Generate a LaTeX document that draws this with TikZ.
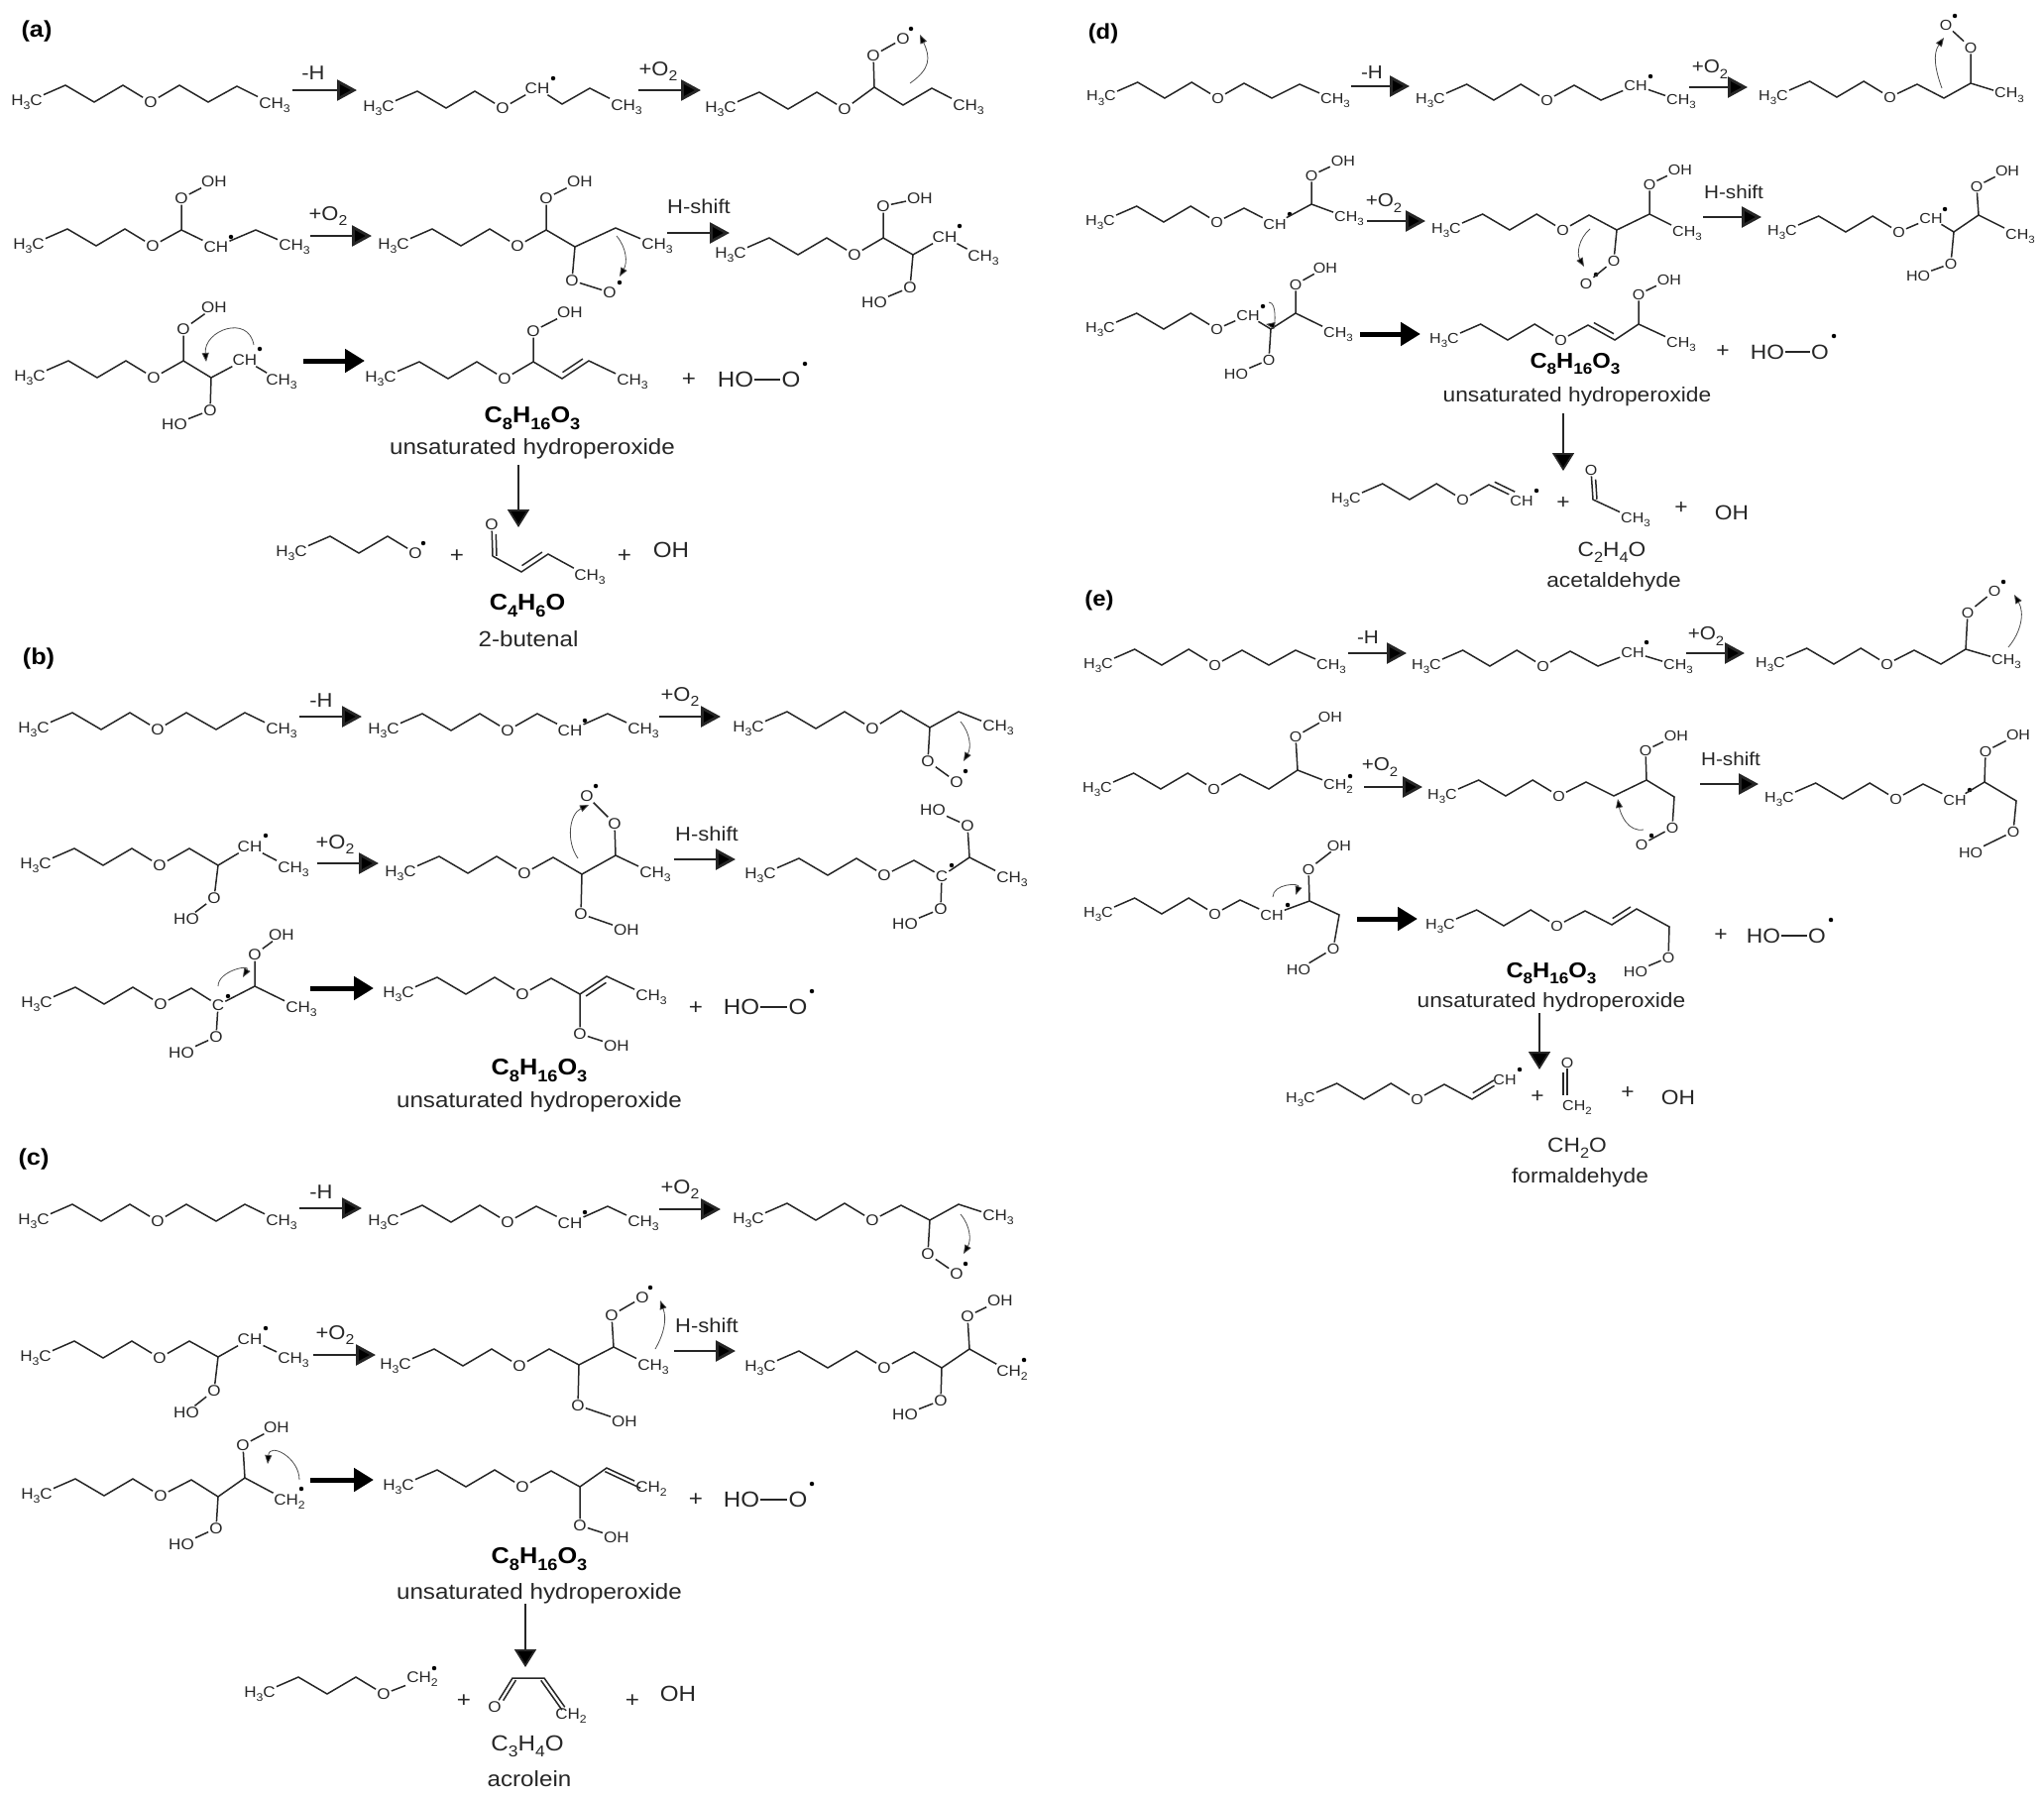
\documentclass[tikz,border=0pt]{standalone}
\usepackage{fontspec}
\setmainfont[FakeStretch=1.1]{Liberation Sans}
\usetikzlibrary{arrows.meta,calc}
\newcommand{\pansc}{1}
\newcommand{\fs}[1]{\fontsize{\fpeval{#1*\pansc}}{\fpeval{#1*\pansc*1.2}}\selectfont}
\makeatletter
\newcommand{\low}[1]{\raisebox{-.28em}{\fontsize{\fpeval{.72*\f@size}}{1}\selectfont #1}}
\makeatother
\newcommand{\chiii}{CH\low{3}}
\newcommand{\chii}{CH\low{2}}
\newcommand{\formula}{C\low{8}H\low{16}O\low{3}}
\tikzset{
  bond/.style={line width=1.5pt,black!85},
  atom/.style={font=\fs{15.5},inner sep=1pt,text=black!85},
  big/.style={font=\fs{22},inner sep=1pt,text=black!85},
  txt/.style={font=\fs{20},inner sep=0pt,text=black!85},
  note/.style={font=\fs{22},inner sep=0pt,text=black!85},
  brut/.style={font=\bfseries\fs{23},inner sep=0pt},
  panel/.style={font=\bfseries\fs{23},inner sep=0pt},
  rad/.style={circle,fill=black,inner sep=0pt,minimum size=4.5pt},
  rarrow/.style={line width=2.8pt,black!85,-{Triangle[length=20pt,width=21pt,fill=black]}},
  fat/.style={line width=5pt,black,-{Triangle[length=20pt,width=23pt,fill=black]}},
  fall/.style={line width=1.8pt,black!85,-{Triangle[length=18pt,width=22pt,fill=black]}},
  curl/.style={line width=.8pt,black!70,-{Triangle[length=9pt,width=7pt,fill=black]}}
}
\newcommand{\mol}[2]{\begin{scope}[name prefix=#1-]#2\end{scope}}
\newcommand{\vtx}[1]{\foreach \n/\x/\y in {#1} \coordinate (\n) at (\x,\y);}
\newcommand{\atm}[1]{\foreach \n/\x/\y/\lab in {#1} \node[atom] (\n) at (\x,\y) {\lab};}
\newcommand{\rd}[2]{\node[rad] (r) at (#1,#2) {};}
% butoxy end shared by nearly all the species
\newcommand{\tail}[2]{\begin{scope}[shift={(#1,#2)},scale=\pansc]
  \node[atom] (h) at (0,0) {H\low{3}C};
  \coordinate (c1) at (39,-17);
  \coordinate (c2) at (68,0);
  \coordinate (c3) at (97,-17);
  \node[atom] (o) at (125,0) {O};
  \draw[bond] (h)--(c1)--(c2)--(c3)--(o);
\end{scope}}
\newcommand{\dbl}[5]{\draw[bond,shorten <=#3pt,shorten >=#4pt] ($(#1)!#5pt!90:(#2)$) -- ($(#2)!#5pt!-90:(#1)$);}
\newcommand{\rxn}[5][rarrow]{\coordinate (#2a) at (#3,#5); \coordinate (#2b) at (#4,#5); \draw[#1] (#2a)--(#2b);}
\newcommand{\drop}[4]{\coordinate (#1a) at (#2,#3); \coordinate (#1b) at (#2,#4); \draw[fall] (#1a)--(#1b);}
\newcommand{\hoo}[3]{\node[big] (ho) at (#1,#3) {HO}; \node[big] (oo) at (#2,#3) {O}; \draw[bond] (ho)--(oo); \node[rad] (r) at ($(oo)+(14,-16)$) {};}
\begin{document}
\begin{tikzpicture}[x=1pt,y=-1pt]
\useasboundingbox (0,0) rectangle (2062,1813);

% panel a
\node[panel] (pa) at (37,32) {(a)};
\mol{a1}{\tail{27}{103}\vtx{c4/181/86,c5/210/103,c6/239/87}\atm{m/277/106/\chiii}
  \draw[bond] (o)--(c4)--(c5)--(c6)--(m);}
\rxn{ra1}{295}{360}{91}
\node[txt] (ta1) at (316,74) {-H};
\mol{a2}{\tail{382}{109}\vtx{c5/567/105,c6/595/89}\atm{ch/542/89/CH,m/632/108/\chiii}\rd{558}{79}
  \draw[bond] (o)--(ch)--(c5)--(c6)--(m);}
\rxn{ra2}{644}{707}{91}
\node[txt] (ta2) at (664,72) {+O\low{2}};
\mol{a3}{\tail{727}{110}\vtx{c4/882/88,c5/911/106,c6/940/89,k1/918/84,k2/928/35}\atm{m/977/108/\chiii,p/881/56/O,q/911/39/O}\rd{919}{29}
  \draw[bond] (o)--(c4)--(c5)--(c6)--(m);
  \draw[bond] (c4)--(p)--(q);
  \draw[curl] (k1) to[out=35,in=-65,looseness=1.3] (k2);}
\mol{a4}{\tail{29}{248}\vtx{c4/183/232,c6/258/232}\atm{ch/218/249/CH,m/297/249/\chiii,p/183/200/O,q/216/183/OH}\rd{233}{239}
  \draw[bond] (o)--(c4)--(ch)--(c6)--(m);
  \draw[bond] (c4)--(p)--(q);}
\rxn{ra3}{313}{375}{238}
\node[txt] (ta3) at (331,218) {+O\low{2}};
\mol{a5}{\tail{397}{248}\vtx{c4/551/232,c5/580/249,c6/621/230,k1/622/238,k2/625/279}\atm{m/663/248/\chiii,p/551/200/O,q/585/183/OH,u/577/283/O,w/615/295/O}\rd{625}{285}
  \draw[bond] (o)--(c4)--(c5)--(c6)--(m);
  \draw[bond] (c4)--(p)--(q);
  \draw[bond] (c5)--(u)--(w);
  \draw[curl] (k1) to[out=-50,in=60] (k2);}
\rxn{ra4}{673}{736}{235}
\node[txt] (ta4) at (705,208) {H-shift};
\mol{a6}{\tail{737}{257}\vtx{c4/891/240,c5/921/257}\atm{ch/953/239/CH,m/992/260/\chiii,p/891/208/O,q/928/200/OH,u/918/290/O,w/882/305/HO}\rd{968}{228}
  \draw[bond] (o)--(c4)--(c5)--(ch)--(m);
  \draw[bond] (c4)--(p)--(q);
  \draw[bond] (c5)--(u)--(w);}
\mol{a7}{\tail{30}{381}\vtx{c4/185/364,c5/213/381,k1/256/348,k2/208/365}\atm{ch/247/363/CH,m/284/385/\chiii,p/185/332/O,q/216/310/OH,u/212/414/O,w/176/428/HO}\rd{262}{352}
  \draw[bond] (o)--(c4)--(c5)--(ch)--(m);
  \draw[bond] (c4)--(p)--(q);
  \draw[bond] (c5)--(u)--(w);
  \draw[curl] (k1) to[out=100,in=95,looseness=1.6] (k2);}
\rxn[fat]{ra5}{306}{368}{364}
\mol{a8}{\tail{384}{382}\vtx{c4/538/365,c5/567/382,c6/594/364}\atm{m/638/385/\chiii,p/538/334/O,q/575/315/OH}
  \draw[bond] (o)--(c4)--(c5)--(c6)--(m);
  \dbl{c5}{c6}{4}{4}{5}
  \draw[bond] (c4)--(p)--(q);
  \node[big] (plus) at (695,383) {+};
  \hoo{742}{798}{383}}
\node[brut] (fa) at (537,422) {\formula};
\node[note] (na) at (537,453) {unsaturated hydroperoxide};
\drop{da}{523}{469}{532}
\mol{a9}{\tail{294}{558}\rd{427}{548}
  \node[big] (p1) at (461,561) {+};
  \vtx{c1a/497/561,c2a/526/577,c3a/553/559}\atm{x/496/529/O,m/595/582/\chiii}
  \draw[bond] (x)--(c1a)--(c2a)--(c3a)--(m);
  \dbl{c1a}{x}{0}{10}{-4}
  \dbl{c2a}{c3a}{4}{4}{5}
  \node[big] (p2) at (630,561) {+};
  \node[big] (oh) at (677,555) {OH};}
\node[brut] (fb) at (532,611) {C\low{4}H\low{6}O};
\node[note] (nb) at (533,645) {2-butenal};

% panel b
\node[panel] (pb) at (39,665) {(b)};
\mol{b1}{\tail{34}{736}\vtx{c4/188/719,c5/218/736,c6/247/719}\atm{m/284/737/\chiii}
  \draw[bond] (o)--(c4)--(c5)--(c6)--(m);}
\rxn{rb1}{302}{365}{723}
\node[txt] (tb1) at (324,707) {-H};
\mol{b2}{\tail{387}{737}\vtx{c4/542/720,c6/613/720}\atm{ch/575/737/CH,m/649/737/\chiii}\rd{590}{727}
  \draw[bond] (o)--(c4)--(ch)--(c6)--(m);}
\rxn{rb2}{665}{727}{723}
\node[txt] (tb2) at (686,703) {+O\low{2}};
\mol{b3}{\tail{755}{735}\vtx{c4/909/717,c5/938/734,c6/967/718,k1/969/728,k2/972/768}\atm{m/1007/734/\chiii,u/936/768/O,w/965/789/O}\rd{974}{778}
  \draw[bond] (o)--(c4)--(c5)--(c6)--(m);
  \draw[bond] (c5)--(u)--(w);
  \draw[curl] (k1) to[out=-50,in=60] (k2);}
\mol{b4}{\tail{36}{873}\vtx{c4/191/856,c5/220/873}\atm{ch/252/854/CH,m/296/877/\chiii,u/216/906/O,w/188/927/HO}\rd{268}{843}
  \draw[bond] (o)--(c4)--(c5)--(ch)--(m);
  \draw[bond] (c5)--(u)--(w);}
\rxn{rb3}{320}{382}{871}
\node[txt] (tb3) at (338,852) {+O\low{2}};
\mol{b5}{\tail{404}{881}\vtx{c4/558/865,c5/587/882,c6/621/863,k1/583/866,k2/594/812}\atm{m/661/882/\chiii,p/620/831/O,q/592/803/O,u/586/922/O,w/632/938/OH}\rd{601}{793}
  \draw[bond] (o)--(c4)--(c5)--(c6)--(m);
  \draw[bond] (c6)--(p)--(q);
  \draw[bond] (c5)--(u)--(w);
  \draw[curl] (k1) to[out=125,in=205] (k2);}
\node[txt] (tb4) at (713,841) {H-shift};
\rxn{rb4}{680}{742}{867}
\mol{b6}{\tail{767}{883}\vtx{c4/922/868,c6/978/865}\atm{ch/950/884/C,m/1021/887/\chiii,p/976/833/O,q/941/817/HO,u/949/917/O,w/913/932/HO}\rd{960}{873}
  \draw[bond] (o)--(c4)--(ch)--(c6)--(m);
  \draw[bond] (c6)--(p)--(q);
  \draw[bond] (ch)--(u)--(w);}
\mol{b7}{\tail{37}{1013}\vtx{c4/193/997,c6/257/995,k1/220/995,k2/245/986}\atm{ch/220/1014/C,m/304/1018/\chiii,p/257/963/O,q/284/943/OH,u/218/1046/O,w/183/1062/HO}\rd{230}{1005}
  \draw[bond] (o)--(c4)--(ch)--(c6)--(m);
  \draw[bond] (c6)--(p)--(q);
  \draw[bond] (ch)--(u)--(w);
  \draw[curl] (k1) to[out=90,in=60,looseness=1.5] (k2);}
\rxn[fat]{rb5}{313}{377}{997}
\mol{b8}{\tail{402}{1003}\vtx{c4/556/987,c5/585/1003,c6/612/985}\atm{m/657/1006/\chiii,u/585/1043/O,w/622/1055/OH}
  \draw[bond] (o)--(c4)--(c5)--(c6)--(m);
  \dbl{c5}{c6}{4}{4}{-5}
  \draw[bond] (c5)--(u)--(w);
  \node[big] (plus) at (702,1017) {+};
  \hoo{748}{805}{1016}}
\node[brut] (fc) at (544,1080) {\formula};
\node[note] (nc) at (544,1112) {unsaturated hydroperoxide};

% panel c
\node[panel] (pc) at (34,1170) {(c)};
\mol{c1}{\tail{34}{1232}\vtx{c4/188/1215,c5/218/1232,c6/247/1215}\atm{m/284/1233/\chiii}
  \draw[bond] (o)--(c4)--(c5)--(c6)--(m);}
\rxn{rc1}{302}{365}{1219}
\node[txt] (tc1) at (324,1203) {-H};
\mol{c2}{\tail{387}{1233}\vtx{c4/541/1217,c6/613/1217}\atm{ch/575/1234/CH,m/649/1234/\chiii}\rd{590}{1223}
  \draw[bond] (o)--(c4)--(ch)--(c6)--(m);}
\rxn{rc2}{665}{727}{1220}
\node[txt] (tc2) at (686,1200) {+O\low{2}};
\mol{c3}{\tail{755}{1231}\vtx{c4/909/1216,c5/938/1231,c6/967/1215,k1/969/1225,k2/972/1265}\atm{m/1007/1228/\chiii,u/936/1265/O,w/965/1285/O}\rd{974}{1275}
  \draw[bond] (o)--(c4)--(c5)--(c6)--(m);
  \draw[bond] (c5)--(u)--(w);
  \draw[curl] (k1) to[out=-50,in=60] (k2);}
\mol{c4}{\tail{36}{1370}\vtx{c4/191/1353,c5/220/1369}\atm{ch/252/1351/CH,m/296/1372/\chiii,u/216/1403/O,w/188/1425/HO}\rd{268}{1340}
  \draw[bond] (o)--(c4)--(c5)--(ch)--(m);
  \draw[bond] (c5)--(u)--(w);}
\rxn{rc3}{316}{379}{1367}
\node[txt] (tc3) at (338,1347) {+O\low{2}};
\mol{c5}{\tail{399}{1378}\vtx{c4/554/1361,c5/584/1377,c6/619/1359,k1/661/1361,k2/666/1312}\atm{m/659/1379/\chiii,p/617/1327/O,q/648/1309/O,u/583/1418/O,w/630/1434/OH}\rd{656}{1299}
  \draw[bond] (o)--(c4)--(c5)--(c6)--(m);
  \draw[bond] (c6)--(p)--(q);
  \draw[bond] (c5)--(u)--(w);
  \draw[curl] (k1) to[out=60,in=-70] (k2);}
\node[txt] (tc4) at (713,1337) {H-shift};
\rxn{rc4}{680}{742}{1363}
\mol{c6}{\tail{767}{1380}\vtx{c4/922/1364,c5/950/1380,c6/978/1361}\atm{m/1021/1385/\chii,p/976/1328/O,q/1009/1312/OH,u/949/1413/O,w/913/1427/HO}\rd{1033}{1372}
  \draw[bond] (o)--(c4)--(c5)--(c6)--(m);
  \draw[bond] (c6)--(p)--(q);
  \draw[bond] (c5)--(u)--(w);}
\mol{c7}{\tail{37}{1509}\vtx{c4/193/1493,c5/220/1510,c6/247/1491,k1/302/1493,k2/270/1477}\atm{m/292/1515/\chii,p/245/1458/O,q/279/1440/OH,u/218/1542/O,w/183/1558/HO}\rd{304}{1502}
  \draw[bond] (o)--(c4)--(c5)--(c6)--(m);
  \draw[bond] (c6)--(p)--(q);
  \draw[bond] (c5)--(u)--(w);
  \draw[curl] (k1) to[out=90,in=85,looseness=1.6] (k2);}
\rxn[fat]{rc5}{313}{377}{1493}
\mol{c8}{\tail{402}{1500}\vtx{c4/556/1484,c5/585/1500,c6/612/1481}\atm{m/657/1502/\chii,u/585/1539/O,w/622/1551/OH}
  \draw[bond] (o)--(c4)--(c5)--(c6)--(m);
  \dbl{c6}{m}{0}{10}{-4}
  \draw[bond] (c5)--(u)--(w);
  \node[big] (plus) at (702,1513) {+};
  \hoo{748}{805}{1513}}
\node[brut] (fd) at (544,1573) {\formula};
\node[note] (nd) at (544,1608) {unsaturated hydroperoxide};
\drop{dc}{530}{1618}{1682}
\mol{c9}{\tail{262}{1709}\atm{z/426/1694/\chii}\rd{438}{1683}
  \draw[bond] (o)--(z);
  \node[big] (p1) at (468,1716) {+};
  \vtx{c1a/517/1693,c2a/549/1693}\atm{x/499/1722/O,m/576/1731/\chii}
  \draw[bond] (x)--(c1a)--(c2a)--(m);
  \dbl{c1a}{x}{0}{10}{4}
  \dbl{c2a}{m}{0}{10}{-4}
  \node[big] (p2) at (638,1716) {+};
  \node[big] (oh) at (684,1709) {OH};}
\node[note] (fe) at (532,1762) {C\low{3}H\low{4}O};
\node[note] (ne) at (534,1795) {acrolein};

\begin{scope}
\def\pansc{.94}
% panel d
\node[panel] (pd) at (1113,34) {(d)};
\mol{d1}{\tail{1111}{99}\vtx{c4/1255/84,c5/1283/99,c6/1311/85}\atm{m/1347/101/\chiii}
  \draw[bond] (o)--(c4)--(c5)--(c6)--(m);}
\rxn{rd1}{1363}{1422}{87}
\node[txt] (td1) at (1384,73) {-H};
\mol{d2}{\tail{1443}{101}\vtx{c4/1588/86,c5/1615/101}\atm{ch/1650/86/CH,m/1696/102/\chiii}\rd{1665}{77}
  \draw[bond] (o)--(c4)--(c5)--(ch)--(m);}
\rxn{rd2}{1704}{1763}{88}
\node[txt] (td2) at (1725,70) {+O\low{2}};
\mol{d3}{\tail{1789}{98}\vtx{c4/1934/85,c5/1961/99,c6/1988/84,k1/1959/89,k2/1961/38}\atm{m/2027/96/\chiii,p/1988/48/O,q/1963/25/O}\rd{1972}{16}
  \draw[bond] (o)--(c4)--(c5)--(c6)--(m);
  \draw[bond] (c6)--(p)--(q);
  \draw[curl] (k1) to[out=110,in=-125] (k2);}
\mol{d4}{\tail{1110}{224}\vtx{c4/1255/210,c6/1323/206}\atm{ch/1286/226/CH,m/1361/220/\chiii,p/1323/177/O,q/1355/162/OH}\rd{1301}{216}
  \draw[bond] (o)--(c4)--(ch)--(c6)--(m);
  \draw[bond] (c6)--(p)--(q);}
\rxn{rd3}{1379}{1438}{223}
\node[txt] (td3) at (1396,205) {+O\low{2}};
\mol{d5}{\tail{1459}{232}\vtx{c4/1603/217,c5/1631/232,c6/1664/216,k1/1604/231,k2/1598/269}\atm{m/1702/235/\chiii,p/1664/186/O,q/1695/171/OH,u/1628/263/O,w/1600/286/O}\rd{1610}{277}
  \draw[bond] (o)--(c4)--(c5)--(c6)--(m);
  \draw[bond] (c6)--(p)--(q);
  \draw[bond] (c5)--(u)--(w);
  \draw[curl] (k1) to[out=220,in=120] (k2);}
\node[txt] (td4) at (1749,194) {H-shift};
\rxn{rd4}{1718}{1777}{219}
\mol{d6}{\tail{1798}{234}\vtx{c5/1971/234,c6/1996/217}\atm{ch/1948/220/CH,m/2038/238/\chiii,p/1994/188/O,q/2025/172/OH,u/1968/266/O,w/1935/278/HO}\rd{1962}{211}
  \draw[bond] (o)--(ch)--(c5)--(c6)--(m);
  \draw[bond] (c6)--(p)--(q);
  \draw[bond] (c5)--(u)--(w);}
\mol{d7}{\tail{1110}{332}\vtx{c5/1282/332,c6/1307/316,k1/1280/305,k2/1277/327}\atm{ch/1259/318/CH,m/1350/337/\chiii,p/1307/287/O,q/1337/270/OH,u/1280/363/O,w/1247/377/HO}\rd{1274}{309}
  \draw[bond] (o)--(ch)--(c5)--(c6)--(m);
  \draw[bond] (c6)--(p)--(q);
  \draw[bond] (c5)--(u)--(w);
  \draw[curl] (k1) to[out=0,in=-10] (k2);}
\rxn[fat]{rd5}{1372}{1433}{337}
\mol{d8}{\tail{1457}{343}\vtx{c4/1602/328,c5/1629/343,c6/1653/327}\atm{m/1696/347/\chiii,p/1653/297/O,q/1684/282/OH}
  \draw[bond] (o)--(c4)--(c5)--(c6)--(m);
  \dbl{c4}{c5}{4}{4}{5}
  \draw[bond] (c6)--(p)--(q);
  \node[big] (plus) at (1738,355) {+};
  \hoo{1783}{1836}{355}}
\node[brut] (ff) at (1589,367) {\formula};
\node[note] (nf) at (1591,400) {unsaturated hydroperoxide};
\drop{dd}{1577}{417}{475}
\mol{d9}{\tail{1358}{504}\vtx{c4/1502/489}\atm{ch/1535/505/CH}\rd{1550}{495}
  \draw[bond] (o)--(c4)--(ch);
  \dbl{c4}{ch}{4}{10}{5}
  \node[big] (p1) at (1577,508) {+};
  \vtx{c1a/1607/504}\atm{x/1605/474/O,m/1650/524/\chiii}
  \draw[bond] (x)--(c1a)--(m);
  \dbl{c1a}{x}{0}{10}{-4}
  \node[big] (p2) at (1696,513) {+};
  \node[big] (oh) at (1747,517) {OH};}
\node[note] (fg) at (1626,557) {C\low{2}H\low{4}O};
\node[note] (ng) at (1628,587) {acetaldehyde};

% panel e
\node[panel] (pe) at (1109,606) {(e)};
\mol{e1}{\tail{1108}{671}\vtx{c4/1253/656,c5/1280/671,c6/1307/656}\atm{m/1343/672/\chiii}
  \draw[bond] (o)--(c4)--(c5)--(c6)--(m);}
\rxn{re1}{1360}{1419}{659}
\node[txt] (te1) at (1380,643) {-H};
\mol{e2}{\tail{1439}{672}\vtx{c4/1584/657,c5/1612/672}\atm{ch/1647/658/CH,m/1693/672/\chiii}\rd{1661}{648}
  \draw[bond] (o)--(c4)--(c5)--(ch)--(m);}
\rxn{re2}{1701}{1760}{659}
\node[txt] (te2) at (1721,642) {+O\low{2}};
\mol{e3}{\tail{1786}{670}\vtx{c4/1931/656,c5/1958/670,c6/1983/655,k1/2026/653,k2/2032/600}\atm{m/2024/667/\chiii,p/1985/618/O,q/2012/596/O}\rd{2021}{587}
  \draw[bond] (o)--(c4)--(c5)--(c6)--(m);
  \draw[bond] (c6)--(p)--(q);
  \draw[curl] (k1) to[out=50,in=-60] (k2);}
\mol{e4}{\tail{1107}{796}\vtx{c4/1251/781,c5/1280/796,c6/1309/777}\atm{m/1350/793/\chii,p/1307/743/O,q/1342/723/OH}\rd{1362}{783}
  \draw[bond] (o)--(c4)--(c5)--(c6)--(m);
  \draw[bond] (c6)--(p)--(q);}
\rxn{re3}{1376}{1435}{794}
\node[txt] (te3) at (1392,774) {+O\low{2}};
\mol{e5}{\tail{1455}{803}\vtx{c4/1600/789,c5/1628/803,c6/1661/787,c7/1689/804,k1/1658/837,k2/1632/806}\atm{p/1660/757/O,q/1691/742/OH,u/1687/835/O,w/1656/852/O}\rd{1666}{843}
  \draw[bond] (o)--(c4)--(c5)--(c6)--(c7)--(u)--(w);
  \draw[bond] (c6)--(p)--(q);
  \draw[curl] (k1) to[out=190,in=-80] (k2);}
\node[txt] (te4) at (1746,766) {H-shift};
\rxn{re4}{1715}{1774}{791}
\mol{e6}{\tail{1795}{806}\vtx{c4/1940/791,c6/2002/789,c7/2034/808}\atm{ch/1972/807/CH,p/2003/758/O,q/2036/741/OH,u/2031/839/O,w/1988/860/HO}\rd{1987}{797}
  \draw[bond] (o)--(c4)--(ch)--(c6)--(c7)--(u)--(w);
  \draw[bond] (c6)--(p)--(q);}
\mol{e7}{\tail{1108}{922}\vtx{c4/1251/908,c6/1321/909,c7/1351/923,k1/1284/905,k2/1307/903}\atm{ch/1283/923/CH,p/1320/877/O,q/1351/853/OH,u/1345/957/O,w/1310/978/HO}\rd{1299}{913}
  \draw[bond] (o)--(c4)--(ch)--(c6)--(c7)--(u)--(w);
  \draw[bond] (c6)--(p)--(q);
  \draw[curl] (k1) to[out=90,in=70,looseness=1.5] (k2);}
\rxn[fat]{re5}{1369}{1430}{927}
\mol{e8}{\tail{1453}{934}\vtx{c4/1599/919,c5/1626/933,c6/1651/917,c7/1684/935}\atm{u/1683/966/O,w/1650/980/HO}
  \draw[bond] (o)--(c4)--(c5)--(c6)--(c7)--(u)--(w);
  \dbl{c5}{c6}{4}{4}{5}
  \node[big] (plus) at (1736,944) {+};
  \hoo{1779}{1833}{944}}
\node[brut] (fh) at (1565,982) {\formula};
\node[note] (nh) at (1565,1011) {unsaturated hydroperoxide};
\drop{de}{1553}{1022}{1079}
\mol{e9}{\tail{1312}{1109}\vtx{c4/1457/1094,c5/1485/1109}\atm{ch/1518/1089/CH}\rd{1533}{1079}
  \draw[bond] (o)--(c4)--(c5)--(ch);
  \dbl{c5}{ch}{4}{10}{5}
  \node[big] (p1) at (1551,1107) {+};
  \atm{x/1581/1072/O,m/1591/1117/\chii}
  \vtx{y/1581/1105}
  \draw[bond] (x)--(y);
  \dbl{x}{y}{10}{0}{-4}
  \node[big] (p2) at (1642,1103) {+};
  \node[big] (oh) at (1693,1107) {OH};}
\node[note] (fi) at (1591,1158) {CH\low{2}O};
\node[note] (ni) at (1594,1188) {formaldehyde};
\end{scope}
\end{tikzpicture}
\end{document}
